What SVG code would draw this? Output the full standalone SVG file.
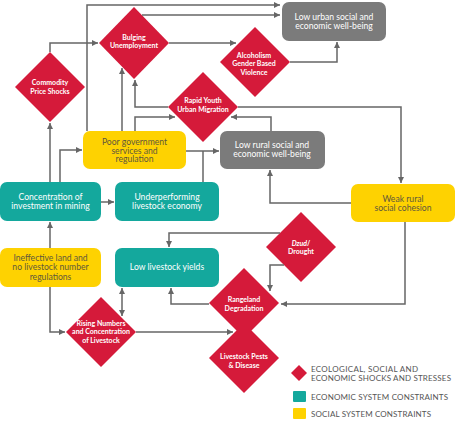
<svg xmlns="http://www.w3.org/2000/svg" width="456" height="422" viewBox="0 0 456 422">
  <style>
    text { font-family: Lato, "Open Sans", "Liberation Sans", sans-serif; text-anchor: middle; }
    .shock { fill: #d51a3a; }
    .econ { fill: #14a89d; }
    .social { fill: #fed201; }
    .outcome { fill: #7b7b7b; }
    .t-box { font-size: 8.6px; fill: #ffffff; }
    .t-soc { font-size: 8.6px; fill: #5e583c; }
    .t-dia { font-size: 7px; font-weight: bold; fill: #ffffff; }
    .t-leg { font-size: 8px; fill: #555555; text-anchor: start; }
    .link { fill: none; stroke: #666666; stroke-width: 1.5; marker-end: url(#arrow); }
    .plain { fill: none; stroke: #666666; stroke-width: 1.5; }
  </style>
  <defs>
    <marker id="arrow" viewBox="0 0 6 6" refX="6" refY="3" markerWidth="6" markerHeight="6" markerUnits="userSpaceOnUse" orient="auto-start-reverse">
      <path d="M0,0 L6,3 L0,6 z" fill="#666666"/>
    </marker>
  </defs>
  <rect width="456" height="422" fill="#ffffff"/>

  <!-- outcomes -->
  <g id="low-urban">
    <rect class="outcome" x="282" y="2" width="104" height="39" rx="7"/>
    <text class="t-box" x="334" y="20">Low urban social and</text>
    <text class="t-box" x="334" y="29">economic well-being</text>
  </g>
  <g id="low-rural">
    <rect class="outcome" x="220" y="131" width="105" height="38" rx="7"/>
    <text class="t-box" x="272" y="148">Low rural social and</text>
    <text class="t-box" x="272" y="157">economic well-being</text>
  </g>

  <!-- social constraints -->
  <g id="poor-government">
    <rect class="social" x="83" y="131" width="103" height="38" rx="7"/>
    <text class="t-soc" x="134.5" y="145">Poor government</text>
    <text class="t-soc" x="134.5" y="153.5">services and</text>
    <text class="t-soc" x="134.5" y="162">regulation</text>
  </g>
  <g id="weak-rural">
    <rect class="social" x="351" y="184" width="104" height="38" rx="7"/>
    <text class="t-soc" x="403" y="202">Weak rural</text>
    <text class="t-soc" x="403" y="210.5">social cohesion</text>
  </g>
  <g id="ineffective-land">
    <rect class="social" x="0" y="248" width="101" height="39" rx="7"/>
    <text class="t-soc" x="50.5" y="261">Ineffective land and</text>
    <text class="t-soc" x="50.5" y="270">no livestock number</text>
    <text class="t-soc" x="50.5" y="279.5">regulations</text>
  </g>

  <!-- economic constraints -->
  <g id="concentration-mining">
    <rect class="econ" x="0" y="182" width="101" height="39" rx="7"/>
    <text class="t-box" x="50.5" y="200">Concentration of</text>
    <text class="t-box" x="50.5" y="209">investment in mining</text>
  </g>
  <g id="underperforming-livestock">
    <rect class="econ" x="115" y="182" width="104" height="39" rx="7"/>
    <text class="t-box" x="167" y="200">Underperforming</text>
    <text class="t-box" x="167" y="209">livestock economy</text>
  </g>
  <g id="low-yields">
    <rect class="econ" x="115" y="248" width="104" height="39" rx="7"/>
    <text class="t-box" x="167" y="270">Low livestock yields</text>
  </g>

  <!-- shocks and stresses -->
  <g id="bulging-unemployment">
    <polygon class="shock" points="134,7 169,43 134,79 99,43"/>
    <text class="t-dia" x="134" y="40">Bulging</text>
    <text class="t-dia" x="134" y="48">Unemployment</text>
  </g>
  <g id="commodity-price">
    <polygon class="shock" points="50,52 85,87 50,122 15,87"/>
    <text class="t-dia" x="50" y="85">Commodity</text>
    <text class="t-dia" x="50" y="93.5">Price Shocks</text>
  </g>
  <g id="alcoholism">
    <polygon class="shock" points="255,27 290,62 255,97 220,62"/>
    <text class="t-dia" x="254" y="57.5">Alcoholism</text>
    <text class="t-dia" x="254" y="66">Gender Based</text>
    <text class="t-dia" x="254" y="74.5">Violence</text>
  </g>
  <g id="rapid-migration">
    <polygon class="shock" points="203,72 238,107 203,142 168,107"/>
    <text class="t-dia" x="203" y="103">Rapid Youth</text>
    <text class="t-dia" x="203" y="112">Urban Migration</text>
  </g>
  <g id="dzud-drought">
    <polygon class="shock" points="301,212 336,247 301,282 266,247"/>
    <text class="t-dia" x="301" y="246"><tspan font-style="italic">Dzud</tspan>/</text>
    <text class="t-dia" x="301" y="253.5">Drought</text>
  </g>
  <g id="livestock-pests">
    <polygon class="shock" points="244,323 279,358 244,393 209,358"/>
    <text class="t-dia" x="244" y="359">Livestock Pests</text>
    <text class="t-dia" x="244" y="368">&amp; Disease</text>
  </g>
  <g id="rangeland-degradation">
    <polygon class="shock" points="244,268 279,303 244,338 209,303"/>
    <text class="t-dia" x="244" y="301.5">Rangeland</text>
    <text class="t-dia" x="244" y="310.5">Degradation</text>
  </g>
  <g id="rising-numbers">
    <polygon class="shock" points="101,297 136,332 101,367 66,332"/>
    <text class="t-dia" x="101" y="325.5">Rising Numbers</text>
    <text class="t-dia" x="101" y="334">and Concentration</text>
    <text class="t-dia" x="101" y="342.5">of Livestock</text>
  </g>

  <!-- connectors -->
  <g id="connectors">
    <path class="link" d="M87,131 V5 H280"/>
    <path class="link" d="M142,15 H280"/>
    <path class="link" d="M169,43 H236"/>
    <path class="link" d="M290,62 H337 V42"/>
    <path class="link" d="M50,52 V43 H98"/>
    <path class="link" d="M50,182 V123"/>
    <path class="link" d="M60,182 V150 H82"/>
    <path class="link" d="M101,202 H114"/>
    <path class="link" d="M122,131 V68"/>
    <path class="link" d="M168,107 H135 V80"/>
    <path class="link" d="M135,131 V117 H175"/>
    <path class="link" d="M238,107 H401 V183"/>
    <path class="link" d="M271,131 V117 H231"/>
    <path class="link" d="M186,151 H219"/>
    <path class="plain" d="M203,182 V151"/>
    <path class="link" d="M351,203 H270 V170"/>
    <path class="link" d="M405,222 V304 H281"/>
    <path class="link" d="M280,233 H169 V247"/>
    <path class="link" d="M284,265 H270 V291"/>
    <path class="link" d="M209,304 H171 V288"/>
    <path class="link" d="M50,287 V332 H65"/>
    <path class="link" d="M50,248 V222"/>
    <path class="link" d="M122,288 V316" marker-start="url(#arrow)"/>
    <path class="link" d="M136,332 H233"/>
  </g>

  <!-- legend -->
  <g id="legend">
    <polygon class="shock" points="299,365 307,373 299,381 291,373"/>
    <text class="t-leg" x="311" y="372" textLength="107" lengthAdjust="spacing">ECOLOGICAL, SOCIAL AND</text>
    <text class="t-leg" x="311" y="381" textLength="140" lengthAdjust="spacing">ECONOMIC SHOCKS AND STRESSES</text>
    <rect class="econ" x="293" y="391" width="13" height="11" rx="1"/>
    <text class="t-leg" x="311" y="399.5" textLength="137" lengthAdjust="spacing">ECONOMIC SYSTEM CONSTRAINTS</text>
    <rect class="social" x="293" y="408" width="13" height="11" rx="1"/>
    <text class="t-leg" x="311" y="416.5" textLength="120" lengthAdjust="spacing">SOCIAL SYSTEM CONSTRAINTS</text>
  </g>
</svg>
